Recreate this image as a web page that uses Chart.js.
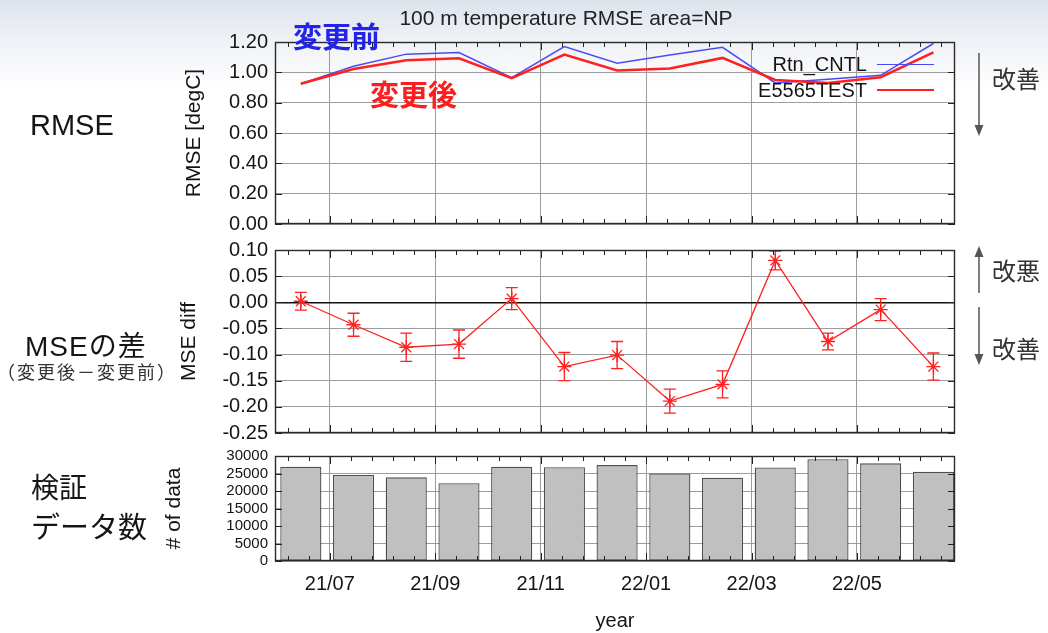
<!DOCTYPE html>
<html>
<head>
<meta charset="utf-8">
<script src="https://cdn.jsdelivr.net/npm/chart.js@4.4.1/dist/chart.umd.min.js"></script>
<style>
  html, body { margin: 0; padding: 0; }
  body {
    width: 1048px; height: 633px; position: relative; overflow: hidden;
    background: linear-gradient(#dde3ec 0px, #edf0f5 35px, #ffffff 90px);
    font-family: "Liberation Sans", Arial, sans-serif; color: #151515;
  }
  canvas { position: absolute; left: 0; top: 0; }
  .t { position: absolute; white-space: nowrap; line-height: 1; }
  .jp { font-family: "Noto Sans CJK JP", sans-serif; }
  .mix { font-family: "Liberation Sans", "Noto Sans CJK JP", sans-serif; }
  .leg { position: absolute; height: 0; }
</style>
</head>
<body>
<canvas id="rmseChart" width="1048" height="633"></canvas>
<canvas id="diffChart" width="1048" height="633"></canvas>
<canvas id="countChart" width="1048" height="633"></canvas>

<div class="t" style="left:366px; width:400px; text-align:center; top:7px; font-size:21px; color:#222;">100 m temperature RMSE area=NP</div>

<!-- legend -->
<div class="t" style="right:181px; top:54px; font-size:20px;">Rtn_CNTL</div>
<div class="t" style="right:181px; top:80px; font-size:20px;">E5565TEST</div>
<div class="leg" style="left:877px; width:57px; top:64px; border-top:1.5px solid #4b4bf2;"></div>
<div class="leg" style="left:877px; width:57px; top:89px; border-top:2.5px solid #ff2020;"></div>

<div class="t jp" style="left:293px; top:21px; font-size:29px; font-weight:700; color:#2424e6;">変更前</div>
<div class="t jp" style="left:370px; top:79px; font-size:29px; font-weight:700; color:#ff1c1c;">変更後</div>

<!-- left labels -->
<div class="t" style="left:30px; top:111px; font-size:29px;">RMSE</div>
<div class="t mix" style="left:25px; top:333px; font-size:28px; letter-spacing:1px;">MSEの差</div>
<div class="t jp" style="left:-3px; top:362px; font-size:18px; letter-spacing:2px; color:#333;">（変更後－変更前）</div>
<div class="t jp" style="left:31px; top:472px; font-size:28px;">検証</div>
<div class="t jp" style="left:31px; top:511px; font-size:29px;">データ数</div>

<!-- right labels -->
<div class="t jp" style="left:992px; top:66px; font-size:24px; color:#333;">改善</div>
<div class="t jp" style="left:992px; top:258px; font-size:24px; color:#333;">改悪</div>
<div class="t jp" style="left:992px; top:336px; font-size:24px; color:#333;">改善</div>
<svg width="1048" height="633" style="position:absolute; left:0; top:0;">
  <g stroke="#555" stroke-width="1.5" fill="#555">
    <line x1="979" y1="53" x2="979" y2="127"/>
    <polygon points="974.5,125 983.5,125 979,136" stroke="none"/>
    <line x1="979" y1="255" x2="979" y2="293"/>
    <polygon points="974.5,257 983.5,257 979,246" stroke="none"/>
    <line x1="979" y1="307" x2="979" y2="356"/>
    <polygon points="974.5,354 983.5,354 979,365" stroke="none"/>
  </g>
</svg>

<script>
// ===== DATA =====
const months = ["21/06", "21/07", "21/08", "21/09", "21/10", "21/11", "21/12",
                "22/01", "22/02", "22/03", "22/04", "22/05", "22/06"];
const tickLabels = ["21/07", "21/09", "21/11", "22/01", "22/03", "22/05"];

const rmseCntl = [0.925, 1.04, 1.12, 1.13, 0.965, 1.17, 1.06, 1.115, 1.165, 0.93, 0.955, 0.98, 1.19];
const rmseTest = [0.925, 1.022, 1.08, 1.093, 0.962, 1.117, 1.012, 1.026, 1.095, 0.95, 0.93, 0.968, 1.132];

const mseDiff = [0.002, -0.043, -0.086, -0.080, 0.007, -0.123, -0.101, -0.189, -0.157, 0.080, -0.075, -0.014, -0.123];
const mseErr  = [0.017, 0.022, 0.027, 0.027, 0.021, 0.027, 0.026, 0.023, 0.026, 0.018, 0.016, 0.021, 0.026];

const dataCount = [26900, 24600, 23900, 22200, 26900, 26800, 27400, 25000, 23800, 26700, 29100, 27900, 25500];

// ===== STYLE =====
const GRID = "#9c9c9c";
const INK = "#151515";
const BLUE = "#4b4bf2";
const RED = "#ff2020";
const X_MIN = -0.49, X_MAX = 12.41;

// month boundaries (data sit mid-month)
const majorX = tickLabels.map(l => months.indexOf(l) - 0.45);
const minorX = [];
for (let v = majorX[0] - 2; v < X_MAX; v += 0.4) {
    if (v > X_MIN && !majorX.some(m => Math.abs(m - v) < 0.01)) minorX.push(v);
}

const pts = arr => arr.map((v, i) => ({ x: i, y: v }));

// gnuplot style frame + inward ticks
const framePlugin = {
    id: "frame",
    afterDatasetsDraw(chart) {
        const { ctx, chartArea: a, scales: { x, y } } = chart;
        ctx.save();
        ctx.strokeStyle = "#222";
        ctx.lineWidth = 1;
        ctx.beginPath();
        majorX.forEach(v => {
            const px = Math.round(x.getPixelForValue(v)) + 0.5;
            ctx.moveTo(px, a.top); ctx.lineTo(px, a.top + 8);
            ctx.moveTo(px, a.bottom); ctx.lineTo(px, a.bottom - 8);
        });
        minorX.forEach(v => {
            const px = Math.round(x.getPixelForValue(v)) + 0.5;
            ctx.moveTo(px, a.top); ctx.lineTo(px, a.top + 5);
            ctx.moveTo(px, a.bottom); ctx.lineTo(px, a.bottom - 5);
        });
        y.ticks.forEach(t => {
            const py = Math.round(y.getPixelForValue(t.value)) + 0.5;
            ctx.moveTo(a.left, py); ctx.lineTo(a.left + 7, py);
            ctx.moveTo(a.right, py); ctx.lineTo(a.right - 7, py);
        });
        ctx.stroke();
        ctx.strokeStyle = "#2a2a2a";
        ctx.lineWidth = 1.4;
        ctx.strokeRect(Math.round(a.left) + 0.5, Math.round(a.top) + 0.5,
                       Math.round(a.width) - 1, Math.round(a.height) - 1);
        ctx.restore();
    }
};

const errorBars = {
    id: "errorBars",
    beforeDatasetsDraw(chart) {
        const { ctx, scales: { x, y } } = chart;
        ctx.save();
        ctx.strokeStyle = RED;
        ctx.lineWidth = 1.3;
        ctx.beginPath();
        mseDiff.forEach((v, i) => {
            const px = x.getPixelForValue(i);
            const lo = y.getPixelForValue(v - mseErr[i]);
            const hi = y.getPixelForValue(v + mseErr[i]);
            ctx.moveTo(px, lo); ctx.lineTo(px, hi);
            ctx.moveTo(px - 6, lo); ctx.lineTo(px + 6, lo);
            ctx.moveTo(px - 6, hi); ctx.lineTo(px + 6, hi);
        });
        ctx.stroke();
        ctx.restore();
    }
};

function xAxis(withLabels) {
    return {
        type: "linear", min: X_MIN, max: X_MAX, offset: false,
        afterBuildTicks: s => { s.ticks = majorX.map(v => ({ value: v })); },
        afterFit: s => { s.height = withLabels ? 72 : 0; },
        grid: { color: GRID, drawTicks: false, offset: false },
        border: { display: false },
        ticks: {
            display: withLabels, autoSkip: false, maxRotation: 0, padding: 11,
            color: INK, font: { size: 20 }, callback: (v, i) => tickLabels[i]
        },
        title: { display: withLabels, text: "year", color: INK, font: { size: 20 }, padding: 0 }
    };
}

function yAxis(o) {
    return {
        min: o.min, max: o.max,
        afterFit: s => { s.width = o.width; },
        grid: { color: o.gridColor || GRID, lineWidth: o.gridWidth || 1, drawTicks: false },
        border: { display: false },
        ticks: {
            stepSize: o.step, autoSkip: false, padding: 7, color: INK,
            font: { size: o.font }, callback: o.fmt
        },
        title: { display: true, text: o.title, color: INK, font: { size: 21 }, padding: { top: 4, bottom: 0 } }
    };
}

const common = {
    responsive: false,
    animation: false,
    events: [],
    plugins: { legend: { display: false }, tooltip: { enabled: false } }
};

const fix2 = v => (Math.abs(v) < 1e-9 ? 0 : v).toFixed(2);

// ===== RMSE =====
new Chart(document.getElementById("rmseChart"), {
    type: "line",
    data: {
        datasets: [
            { label: "Rtn_CNTL", data: pts(rmseCntl), borderColor: BLUE, borderWidth: 1.5, pointRadius: 0, order: 1 },
            { label: "E5565TEST", data: pts(rmseTest), borderColor: RED, borderWidth: 2.5, pointRadius: 0, order: 0 }
        ]
    },
    options: {
        ...common,
        layout: { padding: { left: 178, right: 93, top: 42, bottom: 633 - 224 } },
        scales: {
            x: xAxis(false),
            y: yAxis({ min: 0, max: 1.2, step: 0.2, width: 97, font: 20, fmt: fix2, title: "RMSE [degC]" })
        }
    },
    plugins: [framePlugin]
});

// ===== MSE diff =====
new Chart(document.getElementById("diffChart"), {
    type: "line",
    data: {
        datasets: [{
            label: "MSE diff", data: pts(mseDiff),
            borderColor: RED, borderWidth: 1.3,
            pointStyle: "star", pointRadius: 7, pointBorderColor: RED, pointBorderWidth: 1.3
        }]
    },
    options: {
        ...common,
        layout: { padding: { left: 173, right: 93, top: 250, bottom: 633 - 433 } },
        scales: {
            x: xAxis(false),
            y: yAxis({
                min: -0.25, max: 0.1, step: 0.05, width: 102, font: 20, fmt: fix2, title: "MSE diff",
                gridColor: c => (Math.abs(c.tick.value) < 1e-9 ? "#111" : GRID),
                gridWidth: c => (Math.abs(c.tick.value) < 1e-9 ? 1.4 : 1)
            })
        }
    },
    plugins: [errorBars, framePlugin]
});

// ===== # of data =====
new Chart(document.getElementById("countChart"), {
    type: "bar",
    data: {
        datasets: [{
            label: "# of data", data: pts(dataCount),
            backgroundColor: "#c0c0c0", borderColor: "#4d4d4d", borderWidth: 1.3,
            borderSkipped: false, barPercentage: 0.78, categoryPercentage: 1
        }]
    },
    options: {
        ...common,
        layout: { padding: { left: 158, right: 93, top: 456, bottom: 0 } },
        scales: {
            x: xAxis(true),
            y: yAxis({ min: 0, max: 30000, step: 5000, width: 117, font: 15, fmt: v => String(v), title: "# of data" })
        }
    },
    plugins: [framePlugin]
});
</script>
</body>
</html>
